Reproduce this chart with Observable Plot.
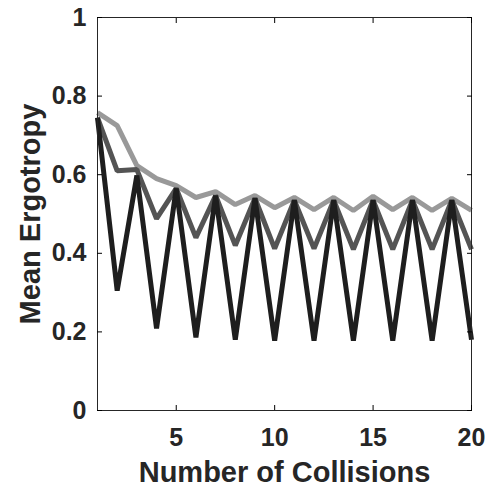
<!DOCTYPE html>
<html>
<head>
<meta charset="utf-8">
<script src="https://cdn.jsdelivr.net/npm/d3@7"></script>
<script src="https://cdn.jsdelivr.net/npm/@observablehq/plot@0.6"></script>
<style>
  html, body { margin: 0; padding: 0; background: #fff; }
  svg text { font-family: "Liberation Sans", Arial, sans-serif; font-weight: bold; }
</style>
</head>
<body>
<div id="chart"></div>
<script>
const collisions = [1,2,3,4,5,6,7,8,9,10,11,12,13,14,15,16,17,18,19,20];
const blackSeries = [0.745,0.305,0.598,0.209,0.565,0.186,0.547,0.180,0.540,0.178,0.535,0.178,0.535,0.178,0.535,0.178,0.535,0.178,0.535,0.180];
const darkSeries  = [0.745,0.610,0.613,0.488,0.565,0.440,0.547,0.420,0.540,0.412,0.535,0.412,0.535,0.410,0.535,0.410,0.535,0.410,0.535,0.410];
const lightSeries = [0.758,0.725,0.623,0.590,0.572,0.542,0.557,0.524,0.547,0.516,0.542,0.511,0.542,0.509,0.545,0.511,0.542,0.509,0.540,0.509];
const seriesNames = ["light", "dark", "black"];
const seriesColors = ["#999999", "#545454", "#1e1e1e"];
const xTicks = [5, 10, 15, 20];
const yTicks = [0, 0.2, 0.4, 0.6, 0.8, 1];
const xLabel = "Number of Collisions";
const yLabel = "Mean Ergotropy";

const rows = [];
const all = {light: lightSeries, dark: darkSeries, black: blackSeries};
for (const s of seriesNames) {
  collisions.forEach((c, i) => rows.push({series: s, x: c, y: all[s][i]}));
}

const axisColor = "#262626";
const chart = Plot.plot({
  width: 497,
  height: 488,
  marginLeft: 97,
  marginRight: 26,
  marginTop: 17,
  marginBottom: 78,
  x: {domain: [1, 20]},
  y: {domain: [0, 1]},
  color: {domain: seriesNames, range: seriesColors},
  marks: [
    Plot.line(rows, {x: "x", y: "y", z: "series", stroke: "series", strokeWidth: 5, strokeLinejoin: "miter", strokeLinecap: "butt"}),
    Plot.frame({stroke: axisColor, strokeWidth: 1}),
    Plot.axisY({anchor: "left", ticks: yTicks, tickSize: -5, tickPadding: 16, fontSize: 25, fill: axisColor, label: null, tickFormat: d => d === 0 || d === 1 ? String(d) : d.toFixed(1)}),
    Plot.axisY({anchor: "right", ticks: yTicks, tickSize: -5, tickFormat: () => "", label: null}),
    Plot.axisX({anchor: "bottom", ticks: xTicks, tickSize: -5, tickPadding: 23, fontSize: 25, fill: axisColor, label: null}),
    Plot.axisX({anchor: "top", ticks: xTicks, tickSize: -5, tickFormat: () => "", label: null}),
    Plot.text([xLabel], {frameAnchor: "bottom", lineAnchor: "middle", textAnchor: "middle", dy: 62, fontSize: 29, fill: axisColor}),
    Plot.text([yLabel], {frameAnchor: "left", lineAnchor: "middle", textAnchor: "middle", dx: -67, rotate: -90, fontSize: 29, fill: axisColor})
  ]
});
document.getElementById("chart").appendChild(chart);
</script>
</body>
</html>
